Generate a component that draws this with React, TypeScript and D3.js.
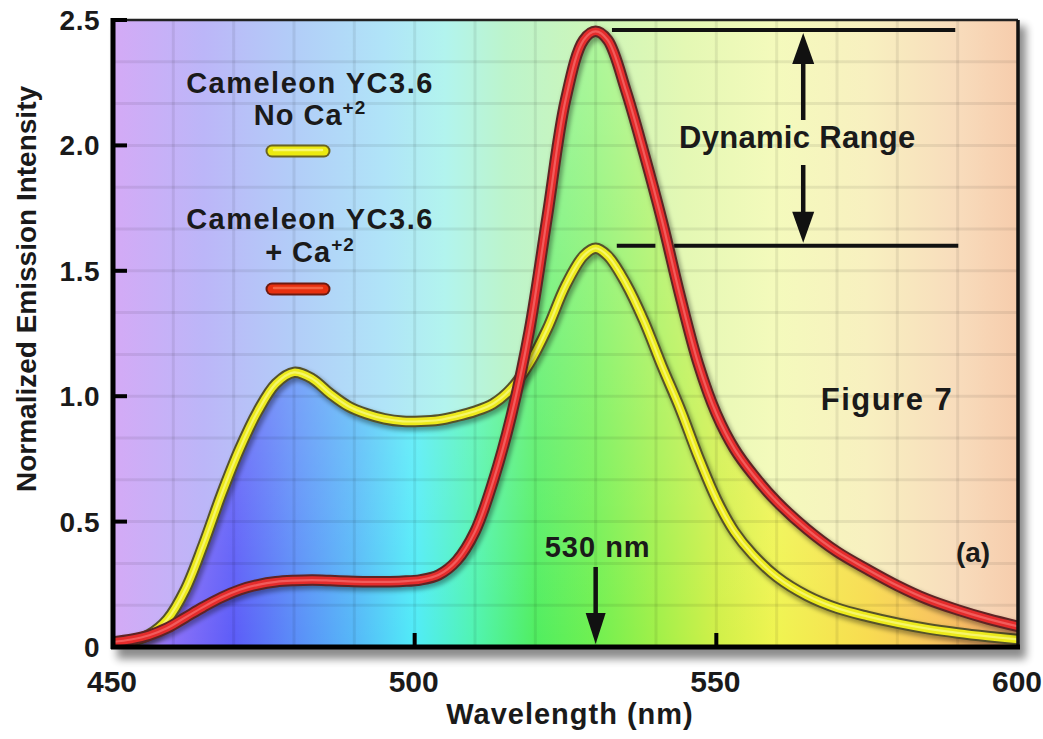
import React from 'react';
import * as d3 from 'd3';

const wavelengths = [450, 453, 456, 459, 462, 465, 468, 471, 474, 477, 480, 483, 486, 489, 492, 495, 498, 501, 504, 507, 510, 513, 516, 519, 522, 525, 528, 530, 532, 535, 538, 541, 544, 547, 550, 553, 556, 560, 565, 570, 575, 580, 585, 590, 595, 600];
const noCa = [0.01, 0.022, 0.05, 0.11, 0.23, 0.41, 0.61, 0.79, 0.94, 1.05, 1.095, 1.07, 1.01, 0.96, 0.93, 0.91, 0.9, 0.9, 0.905, 0.92, 0.94, 0.97, 1.03, 1.13, 1.27, 1.44, 1.56, 1.59, 1.56, 1.45, 1.3, 1.12, 0.95, 0.76, 0.59, 0.46, 0.37, 0.28, 0.205, 0.155, 0.122, 0.095, 0.073, 0.056, 0.042, 0.03];
const withCa = [0.02, 0.03, 0.047, 0.076, 0.118, 0.16, 0.198, 0.228, 0.248, 0.26, 0.265, 0.267, 0.265, 0.262, 0.26, 0.26, 0.262, 0.268, 0.288, 0.345, 0.46, 0.66, 0.92, 1.26, 1.72, 2.18, 2.42, 2.455, 2.42, 2.22, 1.97, 1.7, 1.4, 1.13, 0.93, 0.79, 0.69, 0.58, 0.47, 0.38, 0.31, 0.245, 0.19, 0.148, 0.112, 0.082];

const xTicks = [450, 500, 550, 600];
const yTicks = [0, 0.5, 1.0, 1.5, 2.0, 2.5];
const yTickLabels = ['0', '0.5', '1.0', '1.5', '2.0', '2.5'];
const dynamicRangeLevels = [2.46, 1.6];
const peakWavelength = 530;

const pastelStops: [number, string][] = [
  [450, '#d4aaf6'], [465, '#bcb6f8'], [480, '#b2cdf8'], [495, '#b0e4f8'], [505, '#b2f4ee'],
  [515, '#bcf4cc'], [530, '#cef6b8'], [545, '#e4f8b4'], [560, '#f4fabc'], [575, '#f8f0c0'],
  [590, '#f8dcbc'], [600, '#f6ccac'],
];
const vividStops: [number, string][] = [
  [450, '#d09ef0'], [460, '#8a70f8'], [470, '#5c5cf8'], [480, '#5a8cf8'], [490, '#55b8f8'],
  [500, '#50ecf8'], [510, '#50f4b0'], [520, '#50ee60'], [530, '#70f050'], [540, '#a0f048'],
  [550, '#d0f048'], [560, '#f0f450'], [575, '#f8dc50'], [590, '#f8bc60'], [600, '#f4a870'],
];

const FONT = '"Liberation Sans", Arial, Helvetica, sans-serif';

export default function App() {
  const W = 1043, H = 739;
  const x = d3.scaleLinear().domain([450, 600]).range([113, 1018]);
  const y = d3.scaleLinear().domain([0, 2.5]).range([647, 20]);
  const [x0, x1] = x.range();
  const [yb, yt] = y.range();

  const yellowPts = wavelengths.map((w, i) => [w, noCa[i]] as [number, number]);
  const redPts = wavelengths.map((w, i) => [w, withCa[i]] as [number, number]);
  const envPts = wavelengths.map((w, i) => [w, Math.max(noCa[i], withCa[i])] as [number, number]);

  const smooth = d3.curveCatmullRom.alpha(0.5);
  const line = d3.line<[number, number]>().x(d => x(d[0])).y(d => y(d[1])).curve(smooth);
  const area = d3.area<[number, number]>().x(d => x(d[0])).y0(y(0)).y1(d => y(d[1])).curve(smooth);

  const yellowD = line(yellowPts) || '';
  const redD = line(redPts) || '';
  const envD = area(envPts) || '';

  const vGrid = d3.range(460, 600, 10);
  const hGrid = d3.range(1, 15).map(k => k / 6);

  const stopOffset = (w: number) => `${((w - 450) / 150) * 100}%`;

  const curve = (d: string, outline: string, main: string, hi: string) => (
    <g>
      <path d={d} fill="none" stroke="rgba(0,0,0,0.35)" strokeWidth={13} transform="translate(2,3)" filter="url(#blur2)" strokeLinecap="round" />
      <path d={d} fill="none" stroke={outline} strokeWidth={11.5} strokeLinecap="round" strokeLinejoin="round" />
      <path d={d} fill="none" stroke={main} strokeWidth={7.5} strokeLinecap="round" strokeLinejoin="round" />
      <path d={d} fill="none" stroke={hi} strokeWidth={2.2} strokeLinecap="round" strokeLinejoin="round" opacity={0.7} />
    </g>
  );

  const pill = (cx: number, cy: number, outline: string, main: string, hi: string) => (
    <g>
      <line x1={cx - 26} x2={cx + 26} y1={cy + 3} y2={cy + 3} stroke="rgba(0,0,0,0.35)" strokeWidth={13} strokeLinecap="round" filter="url(#blur2)" />
      <line x1={cx - 26} x2={cx + 26} y1={cy} y2={cy} stroke={outline} strokeWidth={13} strokeLinecap="round" />
      <line x1={cx - 26} x2={cx + 26} y1={cy} y2={cy} stroke={main} strokeWidth={9} strokeLinecap="round" />
      <line x1={cx - 24} x2={cx + 24} y1={cy - 1} y2={cy - 1} stroke={hi} strokeWidth={2.5} strokeLinecap="round" opacity={0.8} />
    </g>
  );

  const textStyle = { fontFamily: FONT, fontWeight: 700, fill: '#1a1a1a' } as const;

  const arrowX = x(564.4);
  const drTop = y(dynamicRangeLevels[0]);
  const drBot = y(dynamicRangeLevels[1]);
  const peakX = x(peakWavelength);

  return (
    <svg width={W} height={H} style={{ position: 'absolute', left: 0, top: 0, background: '#fff' }}>
      <defs>
        <linearGradient id="pastel" gradientUnits="userSpaceOnUse" x1={x0} x2={x1} y1={0} y2={0}>
          {pastelStops.map(([w, c]) => <stop key={w} offset={stopOffset(w)} stopColor={c} />)}
        </linearGradient>
        <linearGradient id="vivid" gradientUnits="userSpaceOnUse" x1={x0} x2={x1} y1={0} y2={0}>
          {vividStops.map(([w, c]) => <stop key={w} offset={stopOffset(w)} stopColor={c} />)}
        </linearGradient>
        <linearGradient id="fade" gradientUnits="userSpaceOnUse" x1={0} x2={0} y1={yt} y2={yb}>
          <stop offset="0%" stopColor="#fff" stopOpacity={0.45} />
          <stop offset="55%" stopColor="#fff" stopOpacity={0.2} />
          <stop offset="100%" stopColor="#fff" stopOpacity={0} />
        </linearGradient>
        <filter id="blur2" x="-10%" y="-10%" width="120%" height="120%">
          <feGaussianBlur stdDeviation={2} />
        </filter>
        <filter id="blur4" x="-10%" y="-10%" width="120%" height="120%">
          <feGaussianBlur stdDeviation={4} />
        </filter>
        <clipPath id="plotClip">
          <rect x={x0} y={yt} width={x1 - x0} height={yb - yt} />
        </clipPath>
      </defs>

      {/* frame shadow */}
      <rect x={x0 + 4} y={yt + 6} width={x1 - x0 + 4} height={yb - yt + 6} fill="#000" opacity={0.45} filter="url(#blur4)" />

      {/* backgrounds */}
      <rect x={x0} y={yt} width={x1 - x0} height={yb - yt} fill="url(#pastel)" />
      <g clipPath="url(#plotClip)">
        <path d={envD} fill="url(#vivid)" />
        <path d={envD} fill="url(#fade)" />
        {/* grid */}
        {vGrid.map(g => (
          <line key={'v' + g} x1={x(g)} x2={x(g)} y1={yt} y2={yb} stroke="#000" strokeOpacity={0.07} strokeWidth={3} />
        ))}
        {hGrid.map(g => (
          <line key={'h' + g} x1={x0} x2={x1} y1={y(g)} y2={y(g)} stroke="#000" strokeOpacity={0.07} strokeWidth={3} />
        ))}

        {/* dynamic range annotation */}
        <line x1={x(532.7)} x2={x(589.6)} y1={drTop} y2={drTop} stroke="#111" strokeWidth={4} />
        <line x1={x(533.5)} x2={x(539.9)} y1={drBot} y2={drBot} stroke="#111" strokeWidth={4} />
        <line x1={x(543.0)} x2={x(590.1)} y1={drBot} y2={drBot} stroke="#111" strokeWidth={4} />

        {curve(yellowD, '#55522a', '#ecea1c', '#fbfb8a')}
        {curve(redD, '#5e2424', '#e42c2c', '#f77070')}
      </g>

      {/* dynamic range arrows */}
      <line x1={arrowX} x2={arrowX} y1={drTop + 30} y2={120} stroke="#111" strokeWidth={4.5} />
      <polygon points={`${arrowX},${drTop + 3} ${arrowX - 11},${drTop + 34} ${arrowX + 11},${drTop + 34}`} fill="#111" />
      <line x1={arrowX} x2={arrowX} y1={165} y2={drBot - 30} stroke="#111" strokeWidth={4.5} />
      <polygon points={`${arrowX},${drBot - 3} ${arrowX - 11},${drBot - 34} ${arrowX + 11},${drBot - 34}`} fill="#111" />
      <text x={arrowX - 6} y={148} textAnchor="middle" fontSize={31} letterSpacing={0.3} style={textStyle}>Dynamic Range</text>

      {/* 530 nm arrow */}
      <text x={peakX + 2} y={557} textAnchor="middle" fontSize={29} letterSpacing={1} style={textStyle}>530 nm</text>
      <line x1={peakX} x2={peakX} y1={567} y2={618} stroke="#111" strokeWidth={4.5} />
      <polygon points={`${peakX},${yb - 3} ${peakX - 10},${yb - 34} ${peakX + 10},${yb - 34}`} fill="#111" />

      {/* legend */}
      <text x={310} y={93} textAnchor="middle" fontSize={29} letterSpacing={1.5} style={textStyle}>Cameleon YC3.6</text>
      <text x={310} y={125} textAnchor="middle" fontSize={29} letterSpacing={1} style={textStyle}>
        No Ca<tspan fontSize={19} dy={-11}>+2</tspan>
      </text>
      {pill(298, 151, '#6a6420', '#ecea10', '#fbfb8a')}
      <text x={310} y={229} textAnchor="middle" fontSize={29} letterSpacing={1.5} style={textStyle}>Cameleon YC3.6</text>
      <text x={310} y={262} textAnchor="middle" fontSize={29} letterSpacing={1} style={textStyle}>
        + Ca<tspan fontSize={19} dy={-11}>+2</tspan>
      </text>
      {pill(298, 289, '#6e1a10', '#e83010', '#f77050')}

      <text x={887} y={410} textAnchor="middle" fontSize={31} letterSpacing={1.5} style={textStyle}>Figure 7</text>
      <text x={973} y={562} textAnchor="middle" fontSize={28} style={textStyle}>(a)</text>

      {/* frame & axes */}
      <line x1={x0} x2={x1} y1={yt} y2={yt} stroke="#222" strokeWidth={2.5} />
      <line x1={x1} x2={x1} y1={yt} y2={yb} stroke="#111" strokeWidth={3.5} />
      <line x1={x0} x2={x0} y1={yt - 2} y2={yb + 2} stroke="#000" strokeWidth={5} />
      <line x1={x0 - 2} x2={x1 + 2} y1={yb} y2={yb} stroke="#000" strokeWidth={5} />

      {yTicks.map(t => (
        <line key={'yt' + t} x1={x0} x2={x0 + 14} y1={y(t)} y2={y(t)} stroke="#000" strokeWidth={4} />
      ))}
      {xTicks.filter(t => t > 450 && t < 600).map(t => (
        <line key={'xt' + t} x1={x(t)} x2={x(t)} y1={yb} y2={yb - 14} stroke="#000" strokeWidth={4} />
      ))}

      {yTicks.map((t, i) => (
        <text key={'yl' + t} x={100} y={y(t)} dy="0.36em" textAnchor="end" fontSize={28} letterSpacing={0.5} style={textStyle}>{yTickLabels[i]}</text>
      ))}
      {xTicks.map(t => (
        <text key={'xl' + t} x={x(t) - 1} y={692} textAnchor="middle" fontSize={30} style={textStyle}>{t}</text>
      ))}

      <text x={570} y={724} textAnchor="middle" fontSize={29} letterSpacing={1} style={textStyle}>Wavelength (nm)</text>
      <text transform="translate(36,289) rotate(-90)" textAnchor="middle" fontSize={28} style={textStyle}>Normalized Emission Intensity</text>
    </svg>
  );
}
